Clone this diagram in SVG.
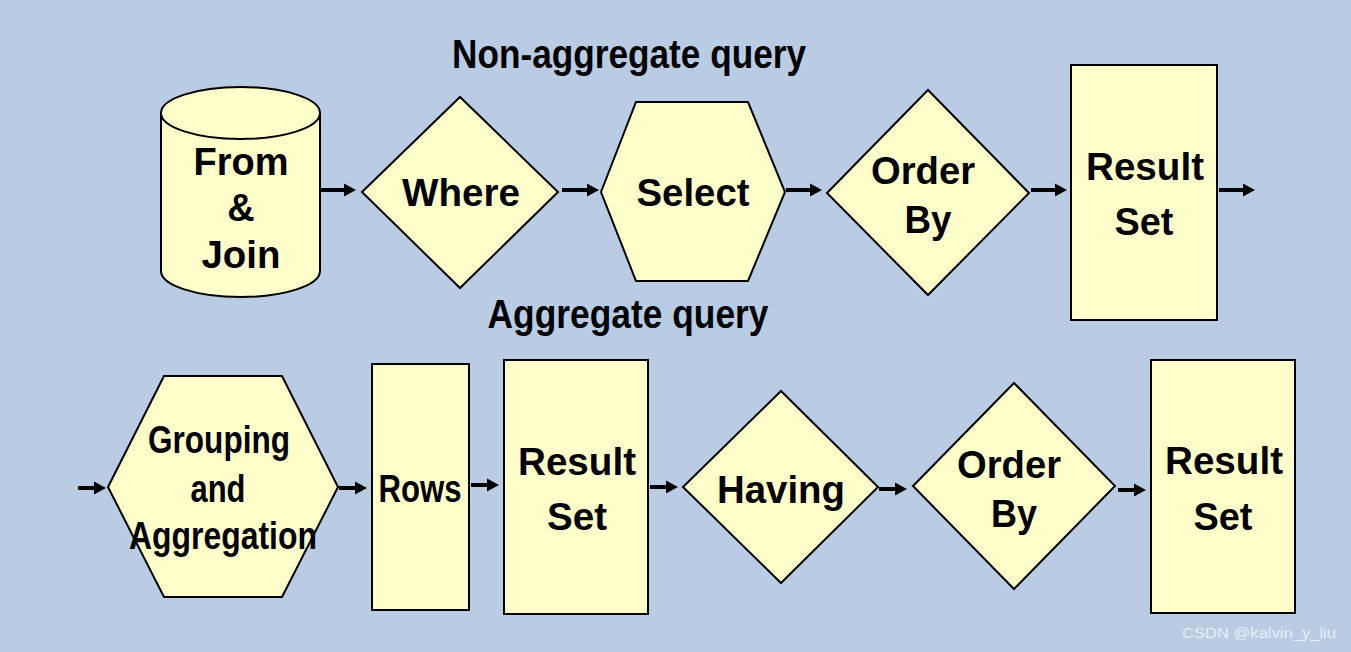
<svg xmlns="http://www.w3.org/2000/svg" width="1351" height="652" viewBox="0 0 1351 652">
<style>
.shape{fill:#FFFFCC;stroke:#000;stroke-width:2}
.t{font-family:"Liberation Sans",Arial,sans-serif;font-weight:bold;font-size:38px;fill:#000;text-anchor:middle}
.title{font-size:40px}
.c line{stroke:#000;stroke-width:4}
.wm{font-family:"Liberation Sans",Arial,sans-serif;font-size:15px;fill:#E8EEF6;text-anchor:middle}
</style>
<defs>
<marker id="ah" markerWidth="4" markerHeight="4" refX="1" refY="2" orient="auto" markerUnits="strokeWidth">
<path d="M0,0.4 L3,2 L0,3.6 z" fill="#000"/>
</marker>
</defs>
<rect width="1351" height="652" fill="#B9CCE4"/>

<text class="t title" x="629" y="68" textLength="354" lengthAdjust="spacingAndGlyphs">Non-aggregate query</text>
<text class="t title" x="628" y="328" textLength="281" lengthAdjust="spacingAndGlyphs">Aggregate query</text>

<g class="c">
<line x1="320" y1="190" x2="348" y2="190" marker-end="url(#ah)"/>
<line x1="562" y1="190" x2="591" y2="190" marker-end="url(#ah)"/>
<line x1="786" y1="190" x2="814" y2="190" marker-end="url(#ah)"/>
<line x1="1031" y1="190" x2="1059" y2="190" marker-end="url(#ah)"/>
<line x1="1219" y1="190" x2="1247" y2="190" marker-end="url(#ah)"/>
<line x1="78" y1="488" x2="98" y2="488" marker-end="url(#ah)"/>
<line x1="339" y1="488" x2="359" y2="488" marker-end="url(#ah)"/>
<line x1="471" y1="485" x2="491" y2="485" marker-end="url(#ah)"/>
<line x1="650" y1="487" x2="670" y2="487" marker-end="url(#ah)"/>
<line x1="879" y1="489" x2="899" y2="489" marker-end="url(#ah)"/>
<line x1="1118" y1="490" x2="1138" y2="490" marker-end="url(#ah)"/>
</g>

<g id="from-join">
<path class="shape" d="M161,113 L161,271 A79.5,26 0 0 0 320,271 L320,113 A79.5,26 0 0 0 161,113 Z"/>
<path class="shape" fill="none" d="M161,113 A79.5,26 0 0 0 320,113"/>
<text class="t" x="241" y="175" textLength="95" lengthAdjust="spacingAndGlyphs">From</text>
<text class="t" x="241" y="221">&amp;</text>
<text class="t" x="241" y="268" textLength="79" lengthAdjust="spacingAndGlyphs">Join</text>
</g>

<g id="where">
<polygon class="shape" points="362,192 460,97 558,192 460,288"/>
<text class="t" x="461" y="206" textLength="118" lengthAdjust="spacingAndGlyphs">Where</text>
</g>

<g id="select">
<polygon class="shape" points="601,192 636,102 748,102 785,192 748,281 636,281"/>
<text class="t" x="693" y="206" textLength="113" lengthAdjust="spacingAndGlyphs">Select</text>
</g>

<g id="orderby1">
<polygon class="shape" points="827,193 928,90 1029,193 928,295"/>
<text class="t" x="923" y="184" textLength="104" lengthAdjust="spacingAndGlyphs">Order</text>
<text class="t" x="928" y="233" textLength="47" lengthAdjust="spacingAndGlyphs">By</text>
</g>

<g id="result1">
<rect class="shape" x="1071" y="65" width="146" height="255"/>
<text class="t" x="1145" y="180" textLength="118" lengthAdjust="spacingAndGlyphs">Result</text>
<text class="t" x="1144" y="235" textLength="59" lengthAdjust="spacingAndGlyphs">Set</text>
</g>

<g id="grouping">
<polygon class="shape" points="108,487 164,376 282,376 338,487 282,597 164,597"/>
<text class="t" x="219" y="453" textLength="142" lengthAdjust="spacingAndGlyphs">Grouping</text>
<text class="t" x="218" y="502" textLength="55" lengthAdjust="spacingAndGlyphs">and</text>
<text class="t" x="223" y="549" textLength="188" lengthAdjust="spacingAndGlyphs">Aggregation</text>
</g>

<g id="rows">
<rect class="shape" x="372" y="364" width="97" height="246"/>
<text class="t" x="420" y="502" textLength="83" lengthAdjust="spacingAndGlyphs">Rows</text>
</g>

<g id="result2">
<rect class="shape" x="504" y="360" width="144" height="254"/>
<text class="t" x="577" y="475" textLength="118" lengthAdjust="spacingAndGlyphs">Result</text>
<text class="t" x="577" y="530" textLength="60" lengthAdjust="spacingAndGlyphs">Set</text>
</g>

<g id="having">
<polygon class="shape" points="683,487 781,391 878,487 781,583"/>
<text class="t" x="781" y="503" textLength="128" lengthAdjust="spacingAndGlyphs">Having</text>
</g>

<g id="orderby2">
<polygon class="shape" points="913,486 1014,383 1115,486 1014,589"/>
<text class="t" x="1009" y="478" textLength="104" lengthAdjust="spacingAndGlyphs">Order</text>
<text class="t" x="1014" y="527" textLength="46" lengthAdjust="spacingAndGlyphs">By</text>
</g>

<g id="result3">
<rect class="shape" x="1151" y="360" width="144" height="253"/>
<text class="t" x="1224" y="474" textLength="118" lengthAdjust="spacingAndGlyphs">Result</text>
<text class="t" x="1223" y="530" textLength="59" lengthAdjust="spacingAndGlyphs">Set</text>
</g>

<text class="wm" x="1259" y="638" textLength="154" lengthAdjust="spacingAndGlyphs">CSDN @kalvin_y_liu</text>
</svg>
